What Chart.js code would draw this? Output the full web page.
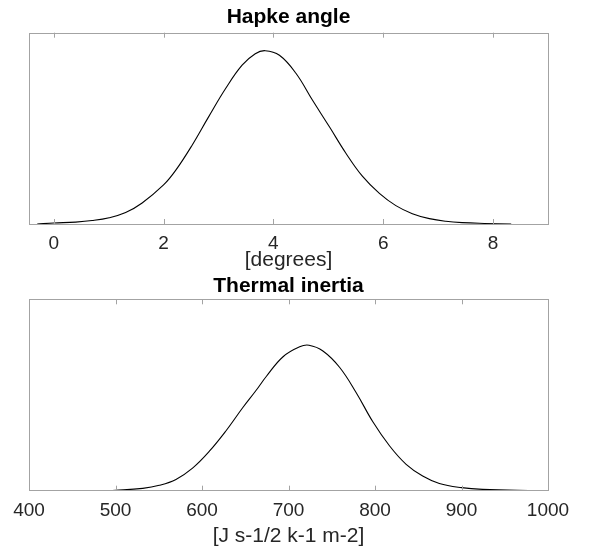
<!DOCTYPE html>
<html>
<head>
<meta charset="utf-8">
<script src="https://cdn.jsdelivr.net/npm/chart.js@4.4.1/dist/chart.umd.min.js"></script>
<style>
  html, body { margin: 0; padding: 0; background: #fff; }
  #wrap { position: relative; width: 594px; height: 548px; }
  canvas { position: absolute; left: 0; }
</style>
</head>
<body>
<div id="wrap">
  <canvas id="hapke" width="594" height="272" style="top:0"></canvas>
  <canvas id="inertia" width="594" height="276" style="top:272px"></canvas>
</div>
<script>
// Hapke angle density (y as fraction of axis height)
var hapkeX = [-0.30, 0.00, 0.40, 0.70, 1.01, 1.31, 1.61, 2.00, 2.22, 2.52, 2.82, 3.13, 3.43, 3.67,
              3.85, 4.11, 4.41, 4.71, 5.02, 5.32, 5.62, 5.93, 6.23, 6.53, 6.84, 7.14, 7.44, 7.84, 8.33];
var hapkeY = [0, 0.005, 0.010, 0.018, 0.033, 0.060, 0.110, 0.204, 0.280, 0.412, 0.560, 0.708, 0.830, 0.890,
              0.906, 0.882, 0.788, 0.648, 0.508, 0.370, 0.250, 0.160, 0.096, 0.054, 0.028, 0.014, 0.007, 0.003, 0];
var hapkeTicks = [0, 2, 4, 6, 8];

// Thermal inertia density
var inertiaX = [487, 500, 531.5, 550.6, 569.9, 589.1, 608.3, 627.6, 646.8, 662.2, 674.5, 693.7, 712.9,
                723.7, 739.8, 759, 778.3, 797.5, 816.7, 836, 855.1, 874.4, 900, 924.3, 988];
var inertiaY = [0, 0.002, 0.012, 0.028, 0.059, 0.118, 0.205, 0.312, 0.432, 0.522, 0.598, 0.700, 0.752,
                0.760, 0.730, 0.645, 0.512, 0.360, 0.235, 0.138, 0.077, 0.038, 0.016, 0.007, 0];
var inertiaTicks = [400, 500, 600, 700, 800, 900, 1000];

var FONT = '"Liberation Sans", Arial, Helvetica, sans-serif';
var boxColor = '#a3a3a3';
var textColor = '#262626';

function pts(xs, ys) {
  return xs.map(function (x, i) { return { x: x, y: ys[i] }; });
}

// matlab-like box with inward ticks on top and bottom
var boxPlugin = {
  id: 'boxPlugin',
  afterDatasetsDraw: function (chart) {
    var ctx = chart.ctx, a = chart.chartArea, xs = chart.scales.x;
    ctx.save();
    ctx.strokeStyle = boxColor;
    ctx.lineWidth = 1;
    ctx.strokeRect(Math.round(a.left) + 0.5, Math.round(a.top) + 0.5,
                   Math.round(a.right - a.left), Math.round(a.bottom - a.top));
    xs.ticks.forEach(function (t) {
      var px = Math.round(xs.getPixelForValue(t.value)) + 0.5;
      ctx.beginPath();
      ctx.moveTo(px, a.bottom); ctx.lineTo(px, a.bottom - 5);
      ctx.moveTo(px, a.top); ctx.lineTo(px, a.top + 5);
      ctx.stroke();
    });
    ctx.restore();
  }
};

function makeChart(id, xs, ys, ticks, xmin, xmax, title, xlabel, titlePad, scaleH) {
  return new Chart(document.getElementById(id), {
    type: 'line',
    data: {
      datasets: [{
        data: pts(xs, ys),
        borderColor: '#000',
        borderWidth: 1.1,
        pointRadius: 0,
        tension: 0.4,
        fill: false
      }]
    },
    options: {
      animation: false,
      responsive: false,
      layout: { padding: { left: 29, right: 46, top: 0, bottom: 0 } },
      plugins: {
        legend: { display: false },
        tooltip: { enabled: false },
        title: {
          display: true,
          text: title,
          color: '#000',
          font: { family: FONT, size: 21, weight: 'bold' },
          padding: titlePad
        }
      },
      scales: {
        x: {
          type: 'linear',
          min: xmin,
          max: xmax,
          afterBuildTicks: function (s) { s.ticks = ticks.map(function (v) { return { value: v }; }); },
          grid: { display: false, drawTicks: false },
          border: { display: false },
          ticks: {
            color: textColor,
            font: { family: FONT, size: 19 },
            padding: 8.5,
            maxRotation: 0,
            callback: function (v) { return String(v); }
          },
          title: {
            display: true,
            text: xlabel,
            color: textColor,
            font: { family: FONT, size: 21 },
            padding: { top: 0, bottom: -1 }
          },
          afterFit: function (s) { s.height = scaleH; }
        },
        y: { display: false, min: 0, max: 1 }
      }
    },
    plugins: [boxPlugin]
  });
}

makeChart('hapke', hapkeX, hapkeY, hapkeTicks, -0.45, 9.0, 'Hapke angle', '[degrees]',
          { top: 5, bottom: 2.5 }, 48);
makeChart('inertia', inertiaX, inertiaY, inertiaTicks, 400, 1000, 'Thermal inertia', '[J s-1/2 k-1 m-2]',
          { top: 1.3, bottom: 0.8 }, 57.3);
</script>
</body>
</html>
